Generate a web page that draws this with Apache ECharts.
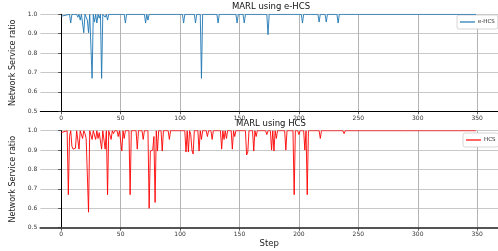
<!DOCTYPE html>
<html>
<head>
<meta charset="utf-8">
<script src="https://cdn.jsdelivr.net/npm/echarts@6/dist/echarts.min.js"></script>
<style>html,body{margin:0;padding:0;background:#fff}#c{width:498px;height:251px}</style>
</head>
<body>
<div id="c"></div>
<script>
// Tick labels
const xTicks = [0, 50, 100, 150, 200, 250, 300, 350];
const yTicks = [0.5, 0.6, 0.7, 0.8, 0.9, 1.0];

// e-HCS series (step, value) — points where the value changes
const ehcsSteps = [0,1,7,8,9,11,12,13,14,15,16,17,18,19,20,21,22,23,24,25,26,27,28,29,30,31,32,33,34,35,36,37,38,39,40,53,54,55,70,71,72,73,74,102,103,104,112,113,114,117,118,119,131,132,133,147,148,149,153,154,155,173,174,175,202,203,204,216,217,218,222,223,224,232,233,234,349];
const ehcsValues = [0.99,1.0,1.0,0.955,1.0,1.0,0.99,1.0,0.985,1.0,0.97,1.0,1.0,0.905,1.0,1.0,0.97,0.905,1.0,1.0,0.67,1.0,0.96,1.0,0.955,1.0,0.98,1.0,0.67,1.0,0.99,0.985,1.0,0.97,1.0,1.0,0.955,1.0,1.0,0.955,1.0,0.97,1.0,1.0,0.955,1.0,1.0,0.955,1.0,1.0,0.67,1.0,1.0,0.955,1.0,1.0,0.955,1.0,1.0,0.955,1.0,1.0,0.895,1.0,1.0,0.955,1.0,1.0,0.96,1.0,1.0,0.96,1.0,1.0,0.955,1.0,1.0];

// HCS series (step, value)
const hcsSteps = [0,1,5,6,7,8,9,10,11,12,13,14,15,16,17,18,19,20,21,22,23,24,25,26,27,28,29,30,31,32,33,34,35,36,37,38,39,40,41,42,43,44,45,46,47,48,49,50,51,52,53,54,57,58,59,63,64,65,68,69,70,73,74,75,76,77,78,79,80,81,82,83,84,85,86,90,91,92,104,105,106,107,108,109,110,111,112,115,116,117,118,119,122,123,124,126,127,128,134,135,136,137,138,139,140,143,144,145,146,147,155,156,157,158,161,162,163,164,165,172,173,174,176,177,178,179,180,181,182,188,189,190,195,196,197,199,200,201,204,205,206,207,208,217,218,219,226,227,228,237,238,239,240,241,287,288,289,349];
const hcsValues = [0.99,1.0,1.0,0.67,0.97,1.0,0.92,0.905,0.905,0.91,1.0,1.0,0.905,1.0,1.0,0.96,1.0,0.985,0.96,0.96,0.58,1.0,1.0,0.955,1.0,0.99,0.955,1.0,0.96,0.99,1.0,0.905,1.0,0.99,0.905,1.0,0.67,1.0,1.0,0.955,1.0,0.985,1.0,0.99,1.0,0.97,1.0,0.99,0.895,1.0,0.96,1.0,1.0,0.67,1.0,1.0,0.905,1.0,1.0,0.955,1.0,1.0,0.6,0.895,0.895,0.9,0.97,0.63,1.0,0.895,1.0,1.0,1.0,0.895,1.0,1.0,0.955,1.0,1.0,0.89,1.0,0.89,1.0,0.98,0.9,0.88,1.0,1.0,0.895,1.0,0.955,1.0,1.0,0.97,1.0,1.0,0.955,1.0,1.0,0.905,1.0,0.955,1.0,0.96,1.0,1.0,0.905,1.0,0.97,1.0,1.0,0.875,0.89,1.0,1.0,0.895,1.0,0.97,1.0,1.0,0.98,1.0,1.0,0.9,1.0,0.895,1.0,0.96,1.0,1.0,0.9,1.0,1.0,0.67,1.0,1.0,0.98,1.0,1.0,0.9,1.0,0.67,1.0,1.0,0.96,1.0,1.0,0.99,1.0,1.0,0.985,1.0,0.99,1.0,1.0,0.99,1.0,1.0];

const FONT = 'DejaVu Sans';
const toPairs = (s, v) => s.map((x, i) => [x, v[i]]);

function xAxisOpt(gi, spineColor, spineWidth, name) {
  return {
    type: 'value', gridIndex: gi, min: -17.5, max: 367.5,
    name: name || '', nameLocation: 'middle', nameGap: 12,
    nameTextStyle: { fontFamily: FONT, fontSize: 8.5, color: '#222' },
    axisLine: { show: true, onZero: false, lineStyle: { color: spineColor, width: spineWidth } },
    axisTick: { show: true, customValues: xTicks, length: 3, lineStyle: { color: '#333', width: 0.8 } },
    axisLabel: { customValues: xTicks, fontFamily: FONT, fontSize: 6, color: '#333', margin: 4 },
    splitLine: { show: true, lineStyle: { color: '#b4b4b4', width: 1 } }
  };
}
function yAxisOpt(gi) {
  return {
    type: 'value', gridIndex: gi, min: 0.5, max: 1.0, interval: 0.1,
    name: 'Network Service ratio', nameLocation: 'middle', nameGap: 19,
    nameTextStyle: { fontFamily: FONT, fontSize: 8, color: '#222' },
    axisLine: { show: true, lineStyle: { color: '#000', width: 1 } },
    axisTick: { show: true, length: 3, lineStyle: { color: '#333', width: 0.8 } },
    axisLabel: { fontFamily: FONT, fontSize: 6, color: '#333', margin: 3,
      formatter: v => v.toFixed(1) },
    splitLine: { show: true, lineStyle: { color: '#c8c8c8', width: 1.2 } }
  };
}

const chart = echarts.init(document.getElementById('c'), null, { renderer: 'canvas' });
chart.setOption({
  animation: false,
  backgroundColor: '#fff',
  title: [
    { text: 'MARL using e-HCS', left: 271, top: 2.5, padding: 0, textAlign: 'center',
      textStyle: { fontFamily: FONT, fontSize: 8.5, fontWeight: 'normal', color: '#111' } },
    { text: 'MARL using HCS', left: 271, top: 119.5, padding: 0, textAlign: 'center',
      textStyle: { fontFamily: FONT, fontSize: 8.5, fontWeight: 'normal', color: '#111' } }
  ],
  legend: [
    { data: ['e-HCS'], left: 457, top: 15, orient: 'vertical', icon: 'rect', itemWidth: 15, itemHeight: 1.2,
      itemGap: 2, padding: [4, 3, 4, 3], backgroundColor: '#fff', borderColor: '#ccc', borderWidth: 0.8, borderRadius: 2,
      textStyle: { fontFamily: FONT, fontSize: 5.5, color: '#222', padding: [0, 0, 0, -2] } },
    { data: ['HCS'], left: 463, top: 133, orient: 'vertical', icon: 'rect', itemWidth: 15, itemHeight: 1.2,
      itemGap: 2, padding: [4, 3, 4, 3], backgroundColor: '#fff', borderColor: '#ccc', borderWidth: 0.8, borderRadius: 2,
      textStyle: { fontFamily: FONT, fontSize: 5.5, color: '#222', padding: [0, 0, 0, -2] } }
  ],
  grid: [
    { left: 40.4, top: 14.3, width: 460.8, height: 97 },
    { left: 40.4, top: 130.7, width: 460.8, height: 97 }
  ],
  xAxis: [ xAxisOpt(0, '#000', 1.2), xAxisOpt(1, '#555', 2, 'Step') ],
  yAxis: [ yAxisOpt(0), yAxisOpt(1) ],
  series: [
    { name: 'e-HCS', type: 'line', xAxisIndex: 0, yAxisIndex: 0, data: toPairs(ehcsSteps, ehcsValues),
      showSymbol: false, symbol: 'none', lineStyle: { color: '#1f77b4', width: 0.9 }, itemStyle: { color: '#1f77b4' }, z: 5 },
    { name: 'HCS', type: 'line', xAxisIndex: 1, yAxisIndex: 1, data: toPairs(hcsSteps, hcsValues),
      showSymbol: false, symbol: 'none', lineStyle: { color: '#ff0000', width: 0.9 }, itemStyle: { color: '#ff0000' }, z: 5 }
  ]
});
</script>
</body>
</html>
